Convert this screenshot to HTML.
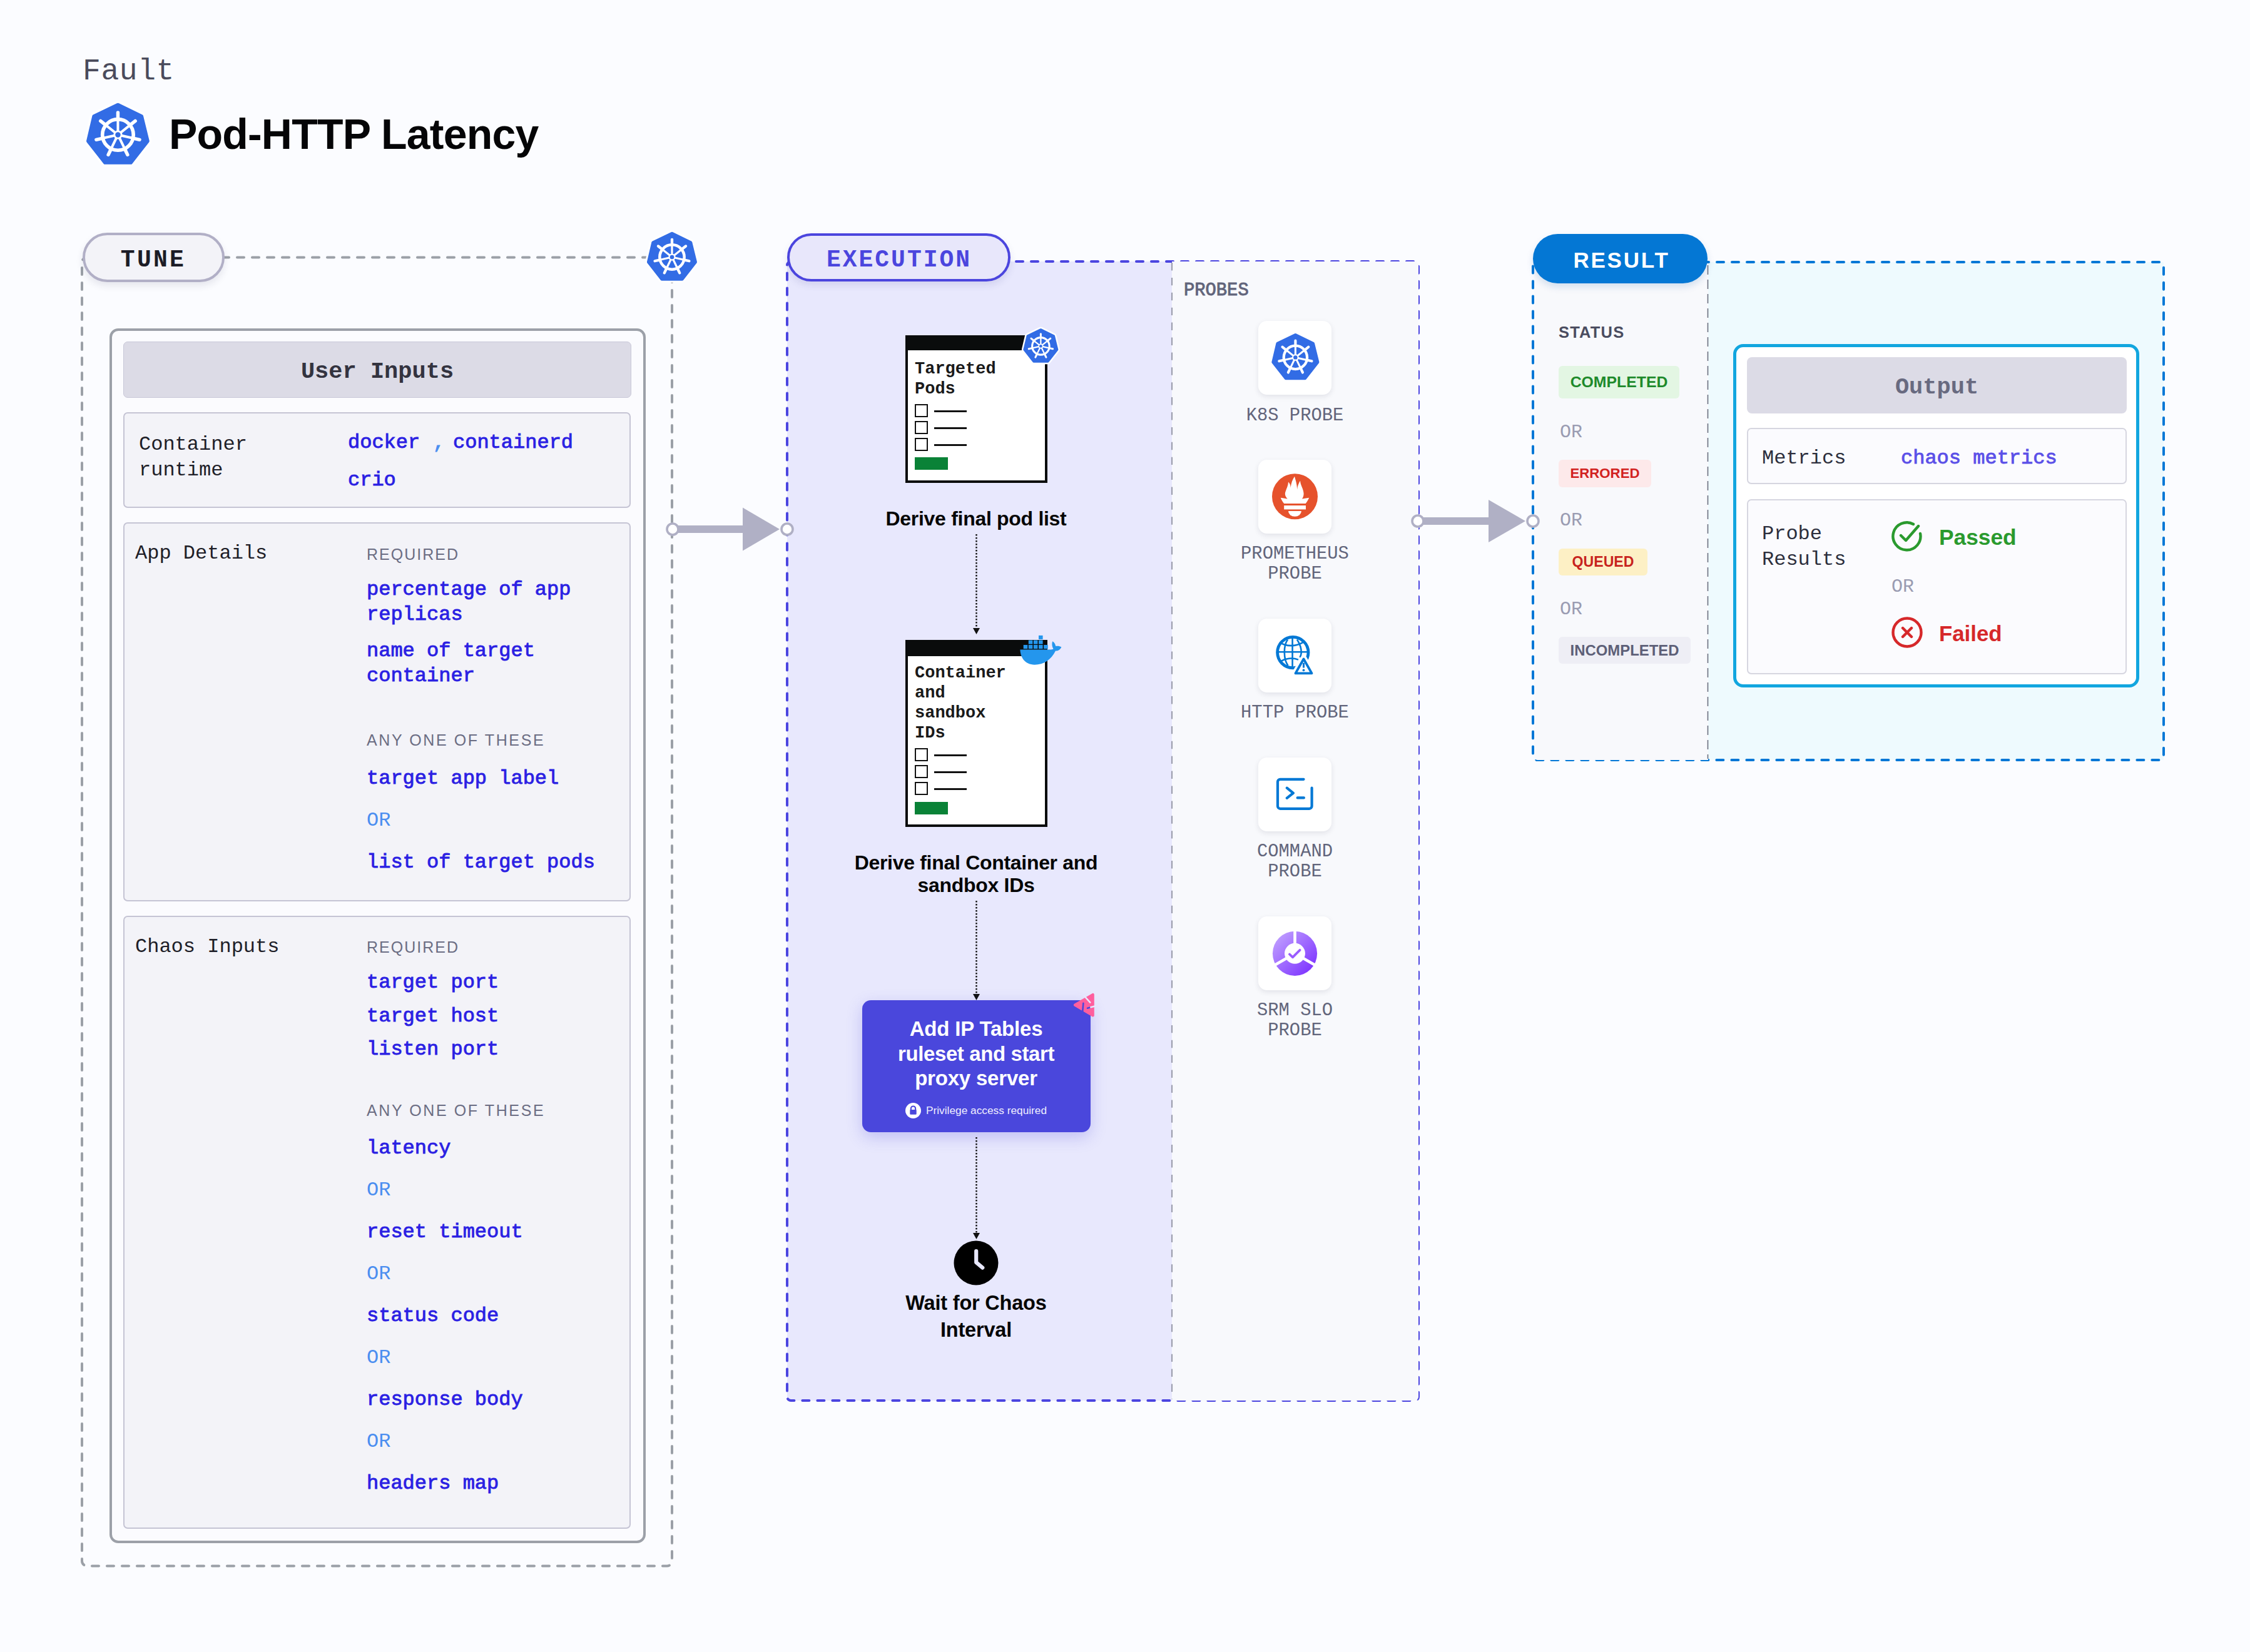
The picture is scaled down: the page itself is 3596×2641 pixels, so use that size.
<!DOCTYPE html><html><head><meta charset="utf-8"><style>
html,body{margin:0;padding:0;width:3596px;height:2641px;overflow:hidden;background:#fbfcff;}
.t{position:absolute;white-space:pre;}
svg{position:absolute;overflow:visible;}
</style></head><body>
<div class="t" style="left:132px;top:90.2px;font:400 48px/48px 'Liberation Mono', monospace;color:#4a4b5c;letter-spacing:0.6px;">Fault</div>
<svg style="left:122.545px;top:149.54500000000002px" width="130.91" height="130.91" viewBox="-65 -65 130 130"><polygon points="0.00,-47.20 37.18,-29.13 46.77,9.94 20.26,43.89 -20.26,43.89 -46.87,9.94 -37.67,-29.14" fill="#fff" stroke="#fff" stroke-width="13.35" stroke-linejoin="round"/><polygon points="0.00,-47.20 37.18,-29.13 46.77,9.94 20.26,43.89 -20.26,43.89 -46.87,9.94 -37.67,-29.14" fill="#326ce5" stroke="#326ce5" stroke-width="6.4" stroke-linejoin="round"/><circle cx="0" cy="0" r="24.6" fill="none" stroke="#fff" stroke-width="5.6"/><g stroke="#fff" stroke-width="4.0" stroke-linecap="round"><line x1="0" y1="0" x2="0.00" y2="-24.00"/><line x1="0" y1="0" x2="18.76" y2="-14.96"/><line x1="0" y1="0" x2="23.40" y2="5.34"/><line x1="0" y1="0" x2="10.41" y2="21.62"/><line x1="0" y1="0" x2="-10.41" y2="21.62"/><line x1="0" y1="0" x2="-23.40" y2="5.34"/><line x1="0" y1="0" x2="-18.76" y2="-14.96"/></g><g stroke="#fff" stroke-width="5.4" stroke-linecap="round"><line x1="0.00" y1="-24.00" x2="0.00" y2="-35.20"/><line x1="18.76" y1="-14.96" x2="27.52" y2="-21.95"/><line x1="23.40" y1="5.34" x2="34.32" y2="7.83"/><line x1="10.41" y1="21.62" x2="15.27" y2="31.71"/><line x1="-10.41" y1="21.62" x2="-15.27" y2="31.71"/><line x1="-23.40" y1="5.34" x2="-34.32" y2="7.83"/><line x1="-18.76" y1="-14.96" x2="-27.52" y2="-21.95"/></g><circle cx="0" cy="0" r="7" fill="#fff"/><circle cx="0" cy="0" r="4.2" fill="#326ce5"/></svg>
<div class="t" style="left:270px;top:180.1px;font:700 68px/68px 'Liberation Sans', sans-serif;color:#050507;letter-spacing:-0.8px;">Pod-HTTP Latency</div>
<svg style="left:0;top:0" width="3596" height="2641"><rect x="131" y="411.5" width="943" height="2092" rx="8" fill="none" stroke="#9ba0a7" stroke-width="4" stroke-dasharray="11 13" stroke-linecap="round"/></svg>
<div style="position:absolute;left:131.5px;top:372px;width:227px;height:79px;box-sizing:border-box;border:4px solid #b1afc6;background:#f3f3f8;border-radius:40px;box-shadow:0 6px 12px rgba(40,40,80,0.10);"></div>
<div class="t" style="left:-755px;width:2000px;text-align:center;top:396.5px;font:700 38px/38px 'Liberation Mono', monospace;color:#1c1c26;letter-spacing:3.3px;">TUNE</div>
<svg style="left:1022.0px;top:359.0px" width="104.0" height="104.0" viewBox="-65 -65 130 130"><polygon points="0.00,-47.20 37.18,-29.13 46.77,9.94 20.26,43.89 -20.26,43.89 -46.87,9.94 -37.67,-29.14" fill="#fff" stroke="#fff" stroke-width="13.90" stroke-linejoin="round"/><polygon points="0.00,-47.20 37.18,-29.13 46.77,9.94 20.26,43.89 -20.26,43.89 -46.87,9.94 -37.67,-29.14" fill="#326ce5" stroke="#326ce5" stroke-width="6.4" stroke-linejoin="round"/><circle cx="0" cy="0" r="24.6" fill="none" stroke="#fff" stroke-width="5.6"/><g stroke="#fff" stroke-width="4.0" stroke-linecap="round"><line x1="0" y1="0" x2="0.00" y2="-24.00"/><line x1="0" y1="0" x2="18.76" y2="-14.96"/><line x1="0" y1="0" x2="23.40" y2="5.34"/><line x1="0" y1="0" x2="10.41" y2="21.62"/><line x1="0" y1="0" x2="-10.41" y2="21.62"/><line x1="0" y1="0" x2="-23.40" y2="5.34"/><line x1="0" y1="0" x2="-18.76" y2="-14.96"/></g><g stroke="#fff" stroke-width="5.4" stroke-linecap="round"><line x1="0.00" y1="-24.00" x2="0.00" y2="-35.20"/><line x1="18.76" y1="-14.96" x2="27.52" y2="-21.95"/><line x1="23.40" y1="5.34" x2="34.32" y2="7.83"/><line x1="10.41" y1="21.62" x2="15.27" y2="31.71"/><line x1="-10.41" y1="21.62" x2="-15.27" y2="31.71"/><line x1="-23.40" y1="5.34" x2="-34.32" y2="7.83"/><line x1="-18.76" y1="-14.96" x2="-27.52" y2="-21.95"/></g><circle cx="0" cy="0" r="7" fill="#fff"/><circle cx="0" cy="0" r="4.2" fill="#326ce5"/></svg>
<div style="position:absolute;left:175px;top:524.5px;width:857px;height:1942.5px;box-sizing:border-box;border:4.5px solid #9ca0a8;border-radius:14px;background:#fbfbfe;"></div>
<div style="position:absolute;left:197px;top:546px;width:812px;height:90px;box-sizing:border-box;border:1.5px solid #c9c8d8;border-radius:7px;background:#dcdbe6;"></div>
<div class="t" style="left:-397px;width:2000px;text-align:center;top:575.6px;font:700 37px/37px 'Liberation Mono', monospace;color:#33333f;letter-spacing:0px;">User Inputs</div>
<div style="position:absolute;left:197px;top:659px;width:811px;height:153px;box-sizing:border-box;border:2px solid #c5c4d4;border-radius:7px;background:#f3f3f8;"></div>
<div class="t" style="left:222px;top:694.5px;font:400 32px/32px 'Liberation Mono', monospace;color:#1e1e28;letter-spacing:0px;">Container</div>
<div class="t" style="left:222px;top:735.5px;font:400 32px/32px 'Liberation Mono', monospace;color:#1e1e28;letter-spacing:0px;">runtime</div>
<div class="t" style="left:556px;top:691.5px;font:400 32px/32px 'Liberation Mono', monospace;color:#2b1fe3;letter-spacing:0px;-webkit-text-stroke:0.9px #2b1fe3;">docker</div>
<div class="t" style="left:692px;top:691.5px;font:400 32px/32px 'Liberation Mono', monospace;color:#4b8ef0;letter-spacing:0px;-webkit-text-stroke:0.9px #4b8ef0;">,</div>
<div class="t" style="left:724px;top:691.5px;font:400 32px/32px 'Liberation Mono', monospace;color:#2b1fe3;letter-spacing:0px;-webkit-text-stroke:0.9px #2b1fe3;">containerd</div>
<div class="t" style="left:556px;top:751.5px;font:400 32px/32px 'Liberation Mono', monospace;color:#2b1fe3;letter-spacing:0px;-webkit-text-stroke:0.9px #2b1fe3;">crio</div>
<div style="position:absolute;left:197px;top:835px;width:811px;height:606px;box-sizing:border-box;border:2px solid #c5c4d4;border-radius:7px;background:#f3f3f8;"></div>
<div class="t" style="left:216px;top:868.5px;font:400 32px/32px 'Liberation Mono', monospace;color:#1e1e28;letter-spacing:0px;">App Details</div>
<div class="t" style="left:586px;top:873.8px;font:400 25px/25px 'Liberation Sans', sans-serif;color:#6b6d83;letter-spacing:2.0px;">REQUIRED</div>
<div class="t" style="left:586px;top:926.5px;font:400 32px/32px 'Liberation Mono', monospace;color:#2b1fe3;letter-spacing:0px;-webkit-text-stroke:0.9px #2b1fe3;">percentage of app</div>
<div class="t" style="left:586px;top:966.5px;font:400 32px/32px 'Liberation Mono', monospace;color:#2b1fe3;letter-spacing:0px;-webkit-text-stroke:0.9px #2b1fe3;">replicas</div>
<div class="t" style="left:586px;top:1024.5px;font:400 32px/32px 'Liberation Mono', monospace;color:#2b1fe3;letter-spacing:0px;-webkit-text-stroke:0.9px #2b1fe3;">name of target</div>
<div class="t" style="left:586px;top:1064.5px;font:400 32px/32px 'Liberation Mono', monospace;color:#2b1fe3;letter-spacing:0px;-webkit-text-stroke:0.9px #2b1fe3;">container</div>
<div class="t" style="left:586px;top:1170.8px;font:400 25px/25px 'Liberation Sans', sans-serif;color:#6b6d83;letter-spacing:2.6px;">ANY ONE OF THESE</div>
<div class="t" style="left:586px;top:1228.5px;font:400 32px/32px 'Liberation Mono', monospace;color:#2b1fe3;letter-spacing:0px;-webkit-text-stroke:0.9px #2b1fe3;">target app label</div>
<div class="t" style="left:586px;top:1295.5px;font:400 32px/32px 'Liberation Mono', monospace;color:#4b8ef0;letter-spacing:0px;">OR</div>
<div class="t" style="left:586px;top:1362.5px;font:400 32px/32px 'Liberation Mono', monospace;color:#2b1fe3;letter-spacing:0px;-webkit-text-stroke:0.9px #2b1fe3;">list of target pods</div>
<div style="position:absolute;left:197px;top:1464px;width:811px;height:980px;box-sizing:border-box;border:2px solid #c5c4d4;border-radius:7px;background:#f3f3f8;"></div>
<div class="t" style="left:216px;top:1497.5px;font:400 32px/32px 'Liberation Mono', monospace;color:#1e1e28;letter-spacing:0px;">Chaos Inputs</div>
<div class="t" style="left:586px;top:1501.8px;font:400 25px/25px 'Liberation Sans', sans-serif;color:#6b6d83;letter-spacing:2.0px;">REQUIRED</div>
<div class="t" style="left:586px;top:1554.5px;font:400 32px/32px 'Liberation Mono', monospace;color:#2b1fe3;letter-spacing:0px;-webkit-text-stroke:0.9px #2b1fe3;">target port</div>
<div class="t" style="left:586px;top:1608.5px;font:400 32px/32px 'Liberation Mono', monospace;color:#2b1fe3;letter-spacing:0px;-webkit-text-stroke:0.9px #2b1fe3;">target host</div>
<div class="t" style="left:586px;top:1661.5px;font:400 32px/32px 'Liberation Mono', monospace;color:#2b1fe3;letter-spacing:0px;-webkit-text-stroke:0.9px #2b1fe3;">listen port</div>
<div class="t" style="left:586px;top:1762.8px;font:400 25px/25px 'Liberation Sans', sans-serif;color:#6b6d83;letter-spacing:2.6px;">ANY ONE OF THESE</div>
<div class="t" style="left:586px;top:1819.5px;font:400 32px/32px 'Liberation Mono', monospace;color:#2b1fe3;letter-spacing:0px;-webkit-text-stroke:0.9px #2b1fe3;">latency</div>
<div class="t" style="left:586px;top:1886.5px;font:400 32px/32px 'Liberation Mono', monospace;color:#4b8ef0;letter-spacing:0px;">OR</div>
<div class="t" style="left:586px;top:1953.5px;font:400 32px/32px 'Liberation Mono', monospace;color:#2b1fe3;letter-spacing:0px;-webkit-text-stroke:0.9px #2b1fe3;">reset timeout</div>
<div class="t" style="left:586px;top:2020.5px;font:400 32px/32px 'Liberation Mono', monospace;color:#4b8ef0;letter-spacing:0px;">OR</div>
<div class="t" style="left:586px;top:2087.5px;font:400 32px/32px 'Liberation Mono', monospace;color:#2b1fe3;letter-spacing:0px;-webkit-text-stroke:0.9px #2b1fe3;">status code</div>
<div class="t" style="left:586px;top:2154.5px;font:400 32px/32px 'Liberation Mono', monospace;color:#4b8ef0;letter-spacing:0px;">OR</div>
<div class="t" style="left:586px;top:2221.5px;font:400 32px/32px 'Liberation Mono', monospace;color:#2b1fe3;letter-spacing:0px;-webkit-text-stroke:0.9px #2b1fe3;">response body</div>
<div class="t" style="left:586px;top:2288.5px;font:400 32px/32px 'Liberation Mono', monospace;color:#4b8ef0;letter-spacing:0px;">OR</div>
<div class="t" style="left:586px;top:2355.5px;font:400 32px/32px 'Liberation Mono', monospace;color:#2b1fe3;letter-spacing:0px;-webkit-text-stroke:0.9px #2b1fe3;">headers map</div>
<div style="position:absolute;left:1258px;top:418px;width:615px;height:1821px;box-sizing:border-box;background:#e8e8fd;border-radius:6px 0 0 6px;"></div>
<svg style="left:0;top:0" width="3596" height="2641"><rect x="1258" y="418" width="1009" height="1821" rx="6" fill="none" stroke="#4b45e0" stroke-width="4" stroke-dasharray="11 13" stroke-linecap="round"/></svg>
<div style="position:absolute;left:1873px;top:418px;width:394px;height:1821px;box-sizing:border-box;background:#f8f9fc;border-radius:0 6px 6px 0;"></div>
<svg style="left:0;top:0" width="3596" height="2641"><line x1="1873" y1="420" x2="1873" y2="2237" stroke="#9d9fae" stroke-width="2.2" stroke-dasharray="12.4 11.5"/></svg>
<div style="position:absolute;left:1258px;top:373px;width:357px;height:77px;box-sizing:border-box;border:4px solid #4b45de;background:#e8e7fb;border-radius:40px;box-shadow:0 6px 12px rgba(60,60,140,0.12);"></div>
<div class="t" style="left:437px;width:2000px;text-align:center;top:396.5px;font:700 38px/38px 'Liberation Mono', monospace;color:#4b45de;letter-spacing:3.0px;">EXECUTION</div>
<svg style="left:0;top:0" width="3596" height="2641"><rect x="1075" y="840" width="114" height="12" fill="#b0b0c5"/><polygon points="1187,811.5 1246,846 1187,880.5" fill="#b0b0c5"/><circle cx="1075" cy="846" r="9" fill="#fff" stroke="#b0b0c5" stroke-width="3.6"/><circle cx="1258" cy="846" r="9" fill="#fff" stroke="#b0b0c5" stroke-width="3.6"/></svg>
<div style="position:absolute;left:1447px;top:536px;width:227px;height:236px;box-sizing:border-box;border:4px solid #0a0c0c;background:#fff;"></div>
<div style="position:absolute;left:1447px;top:536px;width:227px;height:24px;box-sizing:border-box;background:#0a0c0c;"></div>
<div class="t" style="left:1462px;top:576.8px;font:700 27px/27px 'Liberation Mono', monospace;color:#1a1a1a;letter-spacing:0px;">Targeted</div>
<div class="t" style="left:1462px;top:608.8px;font:700 27px/27px 'Liberation Mono', monospace;color:#1a1a1a;letter-spacing:0px;">Pods</div>
<div style="position:absolute;left:1462px;top:646px;width:21px;height:21px;box-sizing:border-box;border:2.5px solid #111;background:#fff;"></div>
<div style="position:absolute;left:1493px;top:656px;width:52px;height:2.5px;box-sizing:border-box;background:#111;"></div>
<div style="position:absolute;left:1462px;top:673px;width:21px;height:21px;box-sizing:border-box;border:2.5px solid #111;background:#fff;"></div>
<div style="position:absolute;left:1493px;top:683px;width:52px;height:2.5px;box-sizing:border-box;background:#111;"></div>
<div style="position:absolute;left:1462px;top:700px;width:21px;height:21px;box-sizing:border-box;border:2.5px solid #111;background:#fff;"></div>
<div style="position:absolute;left:1493px;top:710px;width:52px;height:2.5px;box-sizing:border-box;background:#111;"></div>
<div style="position:absolute;left:1462px;top:731px;width:53px;height:20px;box-sizing:border-box;background:#0a8237;"></div>
<svg style="left:1626.6px;top:516.6px" width="72.8" height="72.8" viewBox="-65 -65 130 130"><polygon points="0.00,-47.20 37.18,-29.13 46.77,9.94 20.26,43.89 -20.26,43.89 -46.87,9.94 -37.67,-29.14" fill="#fff" stroke="#fff" stroke-width="15.33" stroke-linejoin="round"/><polygon points="0.00,-47.20 37.18,-29.13 46.77,9.94 20.26,43.89 -20.26,43.89 -46.87,9.94 -37.67,-29.14" fill="#326ce5" stroke="#326ce5" stroke-width="6.4" stroke-linejoin="round"/><circle cx="0" cy="0" r="24.6" fill="none" stroke="#fff" stroke-width="5.6"/><g stroke="#fff" stroke-width="4.0" stroke-linecap="round"><line x1="0" y1="0" x2="0.00" y2="-24.00"/><line x1="0" y1="0" x2="18.76" y2="-14.96"/><line x1="0" y1="0" x2="23.40" y2="5.34"/><line x1="0" y1="0" x2="10.41" y2="21.62"/><line x1="0" y1="0" x2="-10.41" y2="21.62"/><line x1="0" y1="0" x2="-23.40" y2="5.34"/><line x1="0" y1="0" x2="-18.76" y2="-14.96"/></g><g stroke="#fff" stroke-width="5.4" stroke-linecap="round"><line x1="0.00" y1="-24.00" x2="0.00" y2="-35.20"/><line x1="18.76" y1="-14.96" x2="27.52" y2="-21.95"/><line x1="23.40" y1="5.34" x2="34.32" y2="7.83"/><line x1="10.41" y1="21.62" x2="15.27" y2="31.71"/><line x1="-10.41" y1="21.62" x2="-15.27" y2="31.71"/><line x1="-23.40" y1="5.34" x2="-34.32" y2="7.83"/><line x1="-18.76" y1="-14.96" x2="-27.52" y2="-21.95"/></g><circle cx="0" cy="0" r="7" fill="#fff"/><circle cx="0" cy="0" r="4.2" fill="#326ce5"/></svg>
<div class="t" style="left:560px;width:2000px;text-align:center;top:812.9px;font:700 32px/32px 'Liberation Sans', sans-serif;color:#050505;letter-spacing:-0.3px;">Derive final pod list</div>
<svg style="left:0;top:0" width="3596" height="2641"><line x1="1560.5" y1="854" x2="1560.5" y2="1004" stroke="#111" stroke-width="2.4" stroke-dasharray="2.6 2.4"/><polygon points="1555.0,1004 1566.0,1004 1560.5,1014" fill="#111"/></svg>
<div style="position:absolute;left:1447px;top:1023px;width:227px;height:299px;box-sizing:border-box;border:4px solid #0a0c0c;background:#fff;"></div>
<div style="position:absolute;left:1447px;top:1023px;width:227px;height:26px;box-sizing:border-box;background:#0a0c0c;"></div>
<div class="t" style="left:1462px;top:1063.3px;font:700 27px/27px 'Liberation Mono', monospace;color:#1a1a1a;letter-spacing:0px;">Container</div>
<div class="t" style="left:1462px;top:1095.3px;font:700 27px/27px 'Liberation Mono', monospace;color:#1a1a1a;letter-spacing:0px;">and</div>
<div class="t" style="left:1462px;top:1127.3px;font:700 27px/27px 'Liberation Mono', monospace;color:#1a1a1a;letter-spacing:0px;">sandbox</div>
<div class="t" style="left:1462px;top:1159.3px;font:700 27px/27px 'Liberation Mono', monospace;color:#1a1a1a;letter-spacing:0px;">IDs</div>
<div style="position:absolute;left:1462px;top:1196px;width:21px;height:21px;box-sizing:border-box;border:2.5px solid #111;background:#fff;"></div>
<div style="position:absolute;left:1493px;top:1206px;width:52px;height:2.5px;box-sizing:border-box;background:#111;"></div>
<div style="position:absolute;left:1462px;top:1223px;width:21px;height:21px;box-sizing:border-box;border:2.5px solid #111;background:#fff;"></div>
<div style="position:absolute;left:1493px;top:1233px;width:52px;height:2.5px;box-sizing:border-box;background:#111;"></div>
<div style="position:absolute;left:1462px;top:1250px;width:21px;height:21px;box-sizing:border-box;border:2.5px solid #111;background:#fff;"></div>
<div style="position:absolute;left:1493px;top:1260px;width:52px;height:2.5px;box-sizing:border-box;background:#111;"></div>
<div style="position:absolute;left:1462px;top:1282px;width:53px;height:20px;box-sizing:border-box;background:#0a8237;"></div>
<svg style="left:1620px;top:1000px" width="90" height="70" viewBox="0 0 90 70">
<g fill="#2496ed">
<rect x="40" y="15.9" width="6.6" height="6.2"/>
<rect x="23.8" y="23.5" width="6.6" height="6.2"/><rect x="31.9" y="23.5" width="6.6" height="6.2"/><rect x="40" y="23.5" width="6.6" height="6.2"/>
<rect x="15.7" y="31" width="6.6" height="6.2"/><rect x="23.8" y="31" width="6.6" height="6.2"/><rect x="31.9" y="31" width="6.6" height="6.2"/><rect x="40" y="31" width="6.6" height="6.2"/><rect x="48.2" y="31" width="6.6" height="6.2"/>
<path d="M10.4 38.6 H58 C60.5 38.6 62 38.2 63.5 37.6 C61.2 33.5 60.8 28.5 62.2 25.2 C65.2 27 66.8 30 67.2 33 C70.5 32.4 74.2 33 76.3 34.5 C74.5 38.6 71 40.8 67 40.6 C60 55 48 62.7 33.5 62.7 C18 62.7 10.8 51 10.4 38.6 Z"/>
</g></svg>
<div class="t" style="left:560px;width:2000px;text-align:center;top:1362.9px;font:700 32px/32px 'Liberation Sans', sans-serif;color:#050505;letter-spacing:-0.3px;">Derive final Container and</div>
<div class="t" style="left:560px;width:2000px;text-align:center;top:1398.9px;font:700 32px/32px 'Liberation Sans', sans-serif;color:#050505;letter-spacing:-0.3px;">sandbox IDs</div>
<svg style="left:0;top:0" width="3596" height="2641"><line x1="1560.5" y1="1440" x2="1560.5" y2="1589" stroke="#111" stroke-width="2.4" stroke-dasharray="2.6 2.4"/><polygon points="1555.0,1589 1566.0,1589 1560.5,1599" fill="#111"/></svg>
<div style="position:absolute;left:1378px;top:1599px;width:365px;height:211px;box-sizing:border-box;background:#4a47dc;border-radius:14px;box-shadow:0 8px 24px rgba(74,71,220,0.25);"></div>
<div class="t" style="left:560px;width:2000px;text-align:center;top:1628.1px;font:700 33px/33px 'Liberation Sans', sans-serif;color:#ffffff;letter-spacing:-0.2px;">Add IP Tables</div>
<div class="t" style="left:560px;width:2000px;text-align:center;top:1668.1px;font:700 33px/33px 'Liberation Sans', sans-serif;color:#ffffff;letter-spacing:-0.4px;">ruleset and start</div>
<div class="t" style="left:560px;width:2000px;text-align:center;top:1707.1px;font:700 33px/33px 'Liberation Sans', sans-serif;color:#ffffff;letter-spacing:-0.2px;">proxy server</div>
<svg style="left:1447px;top:1763px" width="25" height="25" viewBox="0 0 24 24"><circle cx="12" cy="12" r="12" fill="#fff"/>
<path d="M8.5 11 V8.8 a3.5 3.5 0 0 1 7 0 V11" fill="none" stroke="#4a47dc" stroke-width="2"/><rect x="7" y="10.5" width="10" height="7.5" rx="1" fill="#4a47dc"/></svg>
<div class="t" style="left:1480px;top:1767.4px;font:400 17.3px/17.3px 'Liberation Sans', sans-serif;color:#eeeefe;letter-spacing:0px;">Privilege access required</div>
<svg style="left:1712px;top:1584px" width="44" height="48" viewBox="0 0 44 48">
<polygon points="6,22.6 34.7,6 34.7,39.5" fill="#ff5f9e" stroke="#ff5f9e" stroke-width="4.2" stroke-linejoin="round"/>
<line x1="20.7" y1="8" x2="30.3" y2="18.6" stroke="#e8e8fc" stroke-width="2.6" stroke-linecap="round"/>
<line x1="19.4" y1="19.7" x2="17.6" y2="40" stroke="#4a47dc" stroke-width="2.6" stroke-linecap="round"/>
<line x1="26" y1="27.7" x2="30.3" y2="26.6" stroke="#4a47dc" stroke-width="2.6" stroke-linecap="round"/>
<line x1="30.3" y1="26.6" x2="40" y2="24.1" stroke="#e8e8fc" stroke-width="2.6"/>
</svg>
<svg style="left:0;top:0" width="3596" height="2641"><line x1="1560.5" y1="1818" x2="1560.5" y2="1971" stroke="#111" stroke-width="2.4" stroke-dasharray="2.6 2.4"/><polygon points="1555.0,1971 1566.0,1971 1560.5,1981" fill="#111"/></svg>
<svg style="left:1524px;top:1983px" width="72" height="72" viewBox="0 0 72 72"><circle cx="36" cy="36" r="35.5" fill="#000"/>
<path d="M36.2 17 V35.2 L46.3 43.6" fill="none" stroke="#e8e8fd" stroke-width="6.2" stroke-linecap="round" stroke-linejoin="round"/></svg>
<div class="t" style="left:560px;width:2000px;text-align:center;top:2066.5px;font:700 32.5px/32.5px 'Liberation Sans', sans-serif;color:#050505;letter-spacing:-0.2px;">Wait for Chaos</div>
<div class="t" style="left:560px;width:2000px;text-align:center;top:2109.5px;font:700 32.5px/32.5px 'Liberation Sans', sans-serif;color:#050505;letter-spacing:-0.2px;">Interval</div>
<div class="t" style="left:1892px;top:450.9px;font:400 28.8px/28.8px 'Liberation Mono', monospace;color:#62657b;letter-spacing:0px;-webkit-text-stroke:0.9px #62657b;">PROBES</div>
<div style="position:absolute;left:2011px;top:513px;width:117px;height:118px;box-sizing:border-box;background:#fff;border-radius:14px;box-shadow:0 3px 8px rgba(30,30,60,0.10);"></div>
<div style="position:absolute;left:2011px;top:735px;width:117px;height:118px;box-sizing:border-box;background:#fff;border-radius:14px;box-shadow:0 3px 8px rgba(30,30,60,0.10);"></div>
<div style="position:absolute;left:2011px;top:989px;width:117px;height:118px;box-sizing:border-box;background:#fff;border-radius:14px;box-shadow:0 3px 8px rgba(30,30,60,0.10);"></div>
<div style="position:absolute;left:2011px;top:1211px;width:117px;height:118px;box-sizing:border-box;background:#fff;border-radius:14px;box-shadow:0 3px 8px rgba(30,30,60,0.10);"></div>
<div style="position:absolute;left:2011px;top:1465px;width:117px;height:118px;box-sizing:border-box;background:#fff;border-radius:14px;box-shadow:0 3px 8px rgba(30,30,60,0.10);"></div>
<div class="t" style="left:1069.5px;width:2000px;text-align:center;top:650.9px;font:400 28.8px/28.8px 'Liberation Mono', monospace;color:#62657b;letter-spacing:0px;">K8S PROBE</div>
<div class="t" style="left:1069.5px;width:2000px;text-align:center;top:871.9px;font:400 28.8px/28.8px 'Liberation Mono', monospace;color:#62657b;letter-spacing:0px;">PROMETHEUS</div>
<div class="t" style="left:1069.5px;width:2000px;text-align:center;top:903.9px;font:400 28.8px/28.8px 'Liberation Mono', monospace;color:#62657b;letter-spacing:0px;">PROBE</div>
<div class="t" style="left:1069.5px;width:2000px;text-align:center;top:1126.4px;font:400 28.8px/28.8px 'Liberation Mono', monospace;color:#62657b;letter-spacing:0px;">HTTP PROBE</div>
<div class="t" style="left:1069.5px;width:2000px;text-align:center;top:1347.9px;font:400 28.8px/28.8px 'Liberation Mono', monospace;color:#62657b;letter-spacing:0px;">COMMAND</div>
<div class="t" style="left:1069.5px;width:2000px;text-align:center;top:1379.9px;font:400 28.8px/28.8px 'Liberation Mono', monospace;color:#62657b;letter-spacing:0px;">PROBE</div>
<div class="t" style="left:1069.5px;width:2000px;text-align:center;top:1602.4px;font:400 28.8px/28.8px 'Liberation Mono', monospace;color:#62657b;letter-spacing:0px;">SRM SLO</div>
<div class="t" style="left:1069.5px;width:2000px;text-align:center;top:1633.9px;font:400 28.8px/28.8px 'Liberation Mono', monospace;color:#62657b;letter-spacing:0px;">PROBE</div>
<svg style="left:2020.6px;top:521.6px" width="98.8" height="98.8" viewBox="-65 -65 130 130"><polygon points="0.00,-47.20 37.18,-29.13 46.77,9.94 20.26,43.89 -20.26,43.89 -46.87,9.94 -37.67,-29.14" fill="#326ce5" stroke="#326ce5" stroke-width="6.4" stroke-linejoin="round"/><circle cx="0" cy="0" r="24.6" fill="none" stroke="#fff" stroke-width="5.6"/><g stroke="#fff" stroke-width="4.0" stroke-linecap="round"><line x1="0" y1="0" x2="0.00" y2="-24.00"/><line x1="0" y1="0" x2="18.76" y2="-14.96"/><line x1="0" y1="0" x2="23.40" y2="5.34"/><line x1="0" y1="0" x2="10.41" y2="21.62"/><line x1="0" y1="0" x2="-10.41" y2="21.62"/><line x1="0" y1="0" x2="-23.40" y2="5.34"/><line x1="0" y1="0" x2="-18.76" y2="-14.96"/></g><g stroke="#fff" stroke-width="5.4" stroke-linecap="round"><line x1="0.00" y1="-24.00" x2="0.00" y2="-35.20"/><line x1="18.76" y1="-14.96" x2="27.52" y2="-21.95"/><line x1="23.40" y1="5.34" x2="34.32" y2="7.83"/><line x1="10.41" y1="21.62" x2="15.27" y2="31.71"/><line x1="-10.41" y1="21.62" x2="-15.27" y2="31.71"/><line x1="-23.40" y1="5.34" x2="-34.32" y2="7.83"/><line x1="-18.76" y1="-14.96" x2="-27.52" y2="-21.95"/></g><circle cx="0" cy="0" r="7" fill="#fff"/><circle cx="0" cy="0" r="4.2" fill="#326ce5"/></svg>
<svg style="left:2032px;top:757px" width="76" height="76" viewBox="0 0 76 76">
<circle cx="37.5" cy="36.8" r="36.5" fill="#e6522c"/>
<path fill="#fff" d="M25.7 40.6 C22 37 21 33 22.5 29 C24 24 27 19 27 13.4 C29.5 15.5 30.8 19 30.6 22.9 C31.5 15 34 9 37 4.8 C38.5 10 41 17 41.1 25.6 C41.5 20 44 15 46.1 11.6 C46 18 51 24 51.5 31.1 C52 35 50.5 38.5 48.8 40.6 L60.2 38.8 C58.5 42.5 56.8 45.5 54.7 47.9 H20.2 C18 45.5 16.3 42.5 14.8 38.8 Z"/>
<rect x="20.2" y="51.1" width="34.8" height="6.3" fill="#fff"/>
<path d="M27 60.1 H47.9 A10.45 8.7 0 0 1 27 60.1 Z" fill="#fff"/>
</svg>
<svg style="left:2032px;top:1013px" width="76" height="76" viewBox="0 0 76 76">
<g fill="none" stroke="#0278d5">
<circle cx="34.3" cy="30.1" r="24.7" stroke-width="4.8"/>
<path d="M33.6 7 V53" stroke-width="2.6"/>
<path d="M9.5 29.3 H59" stroke-width="2.6"/>
<path d="M26 9.5 C19 19 19 41 26.5 51" stroke-width="2.6"/>
<path d="M41 9.5 C46 17 48 25 47.7 31 C47.5 34 46.5 36 45.5 38" stroke-width="2.6"/>
<path d="M13 13.6 C23 21 39 21 51 13.6" stroke-width="2.6"/>
<path d="M14 45 C22 39 34 38 43 41.6" stroke-width="2.6"/>
</g>
<path d="M51.5 40.5 L64.5 63.4 H38.5 Z" fill="#fff" stroke="#fff" stroke-width="11" stroke-linejoin="round"/>
<path d="M51.5 40.5 L64.5 63.4 H38.5 Z" fill="#fff" stroke="#0278d5" stroke-width="3.8" stroke-linejoin="round"/>
<line x1="51.5" y1="46.7" x2="51.5" y2="54.5" stroke="#0278d5" stroke-width="3"/>
<circle cx="51.5" cy="58.3" r="1.9" fill="#0278d5"/>
</svg>
<svg style="left:2032px;top:1233px" width="76" height="76" viewBox="0 0 76 76">
<path d="M51.5 12.8 H14 a4 4 0 0 0 -4 4 V55.8 a4 4 0 0 0 4 4 H60.6 a4 4 0 0 0 4 -4 V26.7" fill="none" stroke="#0278d5" stroke-width="4.2" stroke-linecap="round"/>
<path d="M24.8 26.7 L34.9 34.8 L24.8 42.8" fill="none" stroke="#0278d5" stroke-width="4.2" stroke-linecap="round" stroke-linejoin="round"/>
<path d="M41.7 42.4 H51.9" fill="none" stroke="#0278d5" stroke-width="4.2" stroke-linecap="round"/>
</svg>
<svg style="left:2032px;top:1488px" width="76" height="76" viewBox="0 0 76 76">
<defs><linearGradient id="pg" x1="0" y1="0" x2="1" y2="1"><stop offset="0" stop-color="#c7abff"/><stop offset="1" stop-color="#7526ff"/></linearGradient>
<mask id="pm"><rect width="76" height="76" fill="#fff"/><circle cx="37.5" cy="36.3" r="16.5" fill="#000"/>
<line x1="37.5" y1="-2" x2="37.5" y2="36.3" stroke="#000" stroke-width="4.6"/>
<line x1="37.5" y1="36.3" x2="2" y2="56.8" stroke="#000" stroke-width="4.6"/>
<line x1="37.5" y1="36.3" x2="73" y2="56.8" stroke="#000" stroke-width="4.6"/></mask></defs>
<circle cx="37.5" cy="36.3" r="35.6" fill="url(#pg)" mask="url(#pm)"/>
<path d="M29 37.5 L34 42.3 L45.5 30.8" fill="none" stroke="#9a5cff" stroke-width="3.8" stroke-linecap="round" stroke-linejoin="round"/>
</svg>
<div style="position:absolute;left:2729px;top:419px;width:729px;height:796px;box-sizing:border-box;background:#eefafe;"></div>
<svg style="left:0;top:0" width="3596" height="2641"><rect x="2450" y="419" width="1008" height="796" rx="6" fill="none" stroke="#0277d6" stroke-width="4" stroke-dasharray="11 13" stroke-linecap="round"/></svg>
<div style="position:absolute;left:2452px;top:421px;width:277.5px;height:794px;box-sizing:border-box;background:#f8f9fc;border-radius:0 0 0 5px;"></div>
<svg style="left:0;top:0" width="3596" height="2641"><line x1="2729.5" y1="424" x2="2729.5" y2="1213" stroke="#6b6e7e" stroke-width="1.6" stroke-dasharray="15 8"/></svg>
<svg style="left:0;top:0" width="3596" height="2641"><rect x="2266" y="827" width="115" height="12" fill="#b0b0c5"/><polygon points="2379,799 2438,833 2379,867" fill="#b0b0c5"/><circle cx="2266" cy="833" r="9" fill="#fff" stroke="#b0b0c5" stroke-width="3.6"/><circle cx="2450" cy="833" r="9" fill="#fff" stroke="#b0b0c5" stroke-width="3.6"/></svg>
<div style="position:absolute;left:2450px;top:374px;width:279px;height:79px;box-sizing:border-box;background:#0477d4;border-radius:40px;box-shadow:0 6px 12px rgba(4,80,160,0.15);"></div>
<div class="t" style="left:1591.5px;width:2000px;text-align:center;top:398.4px;font:700 35px/35px 'Liberation Sans', sans-serif;color:#ffffff;letter-spacing:2.8px;">RESULT</div>
<div class="t" style="left:2491px;top:519.0px;font:700 25.5px/25.5px 'Liberation Sans', sans-serif;color:#4b4d60;letter-spacing:1.2px;">STATUS</div>
<div style="position:absolute;left:2491px;top:585px;width:193px;height:52px;box-sizing:border-box;background:#e3f6e3;border-radius:6px;"></div>
<div class="t" style="left:1587.5px;width:2000px;text-align:center;top:598.5px;font:700 24.8px/24.8px 'Liberation Sans', sans-serif;color:#1e8a2b;letter-spacing:0px;">COMPLETED</div>
<div class="t" style="left:2493px;top:676.0px;font:400 30px/30px 'Liberation Mono', monospace;color:#9a9cb2;letter-spacing:0px;">OR</div>
<div style="position:absolute;left:2491px;top:735px;width:148px;height:44px;box-sizing:border-box;background:#fde9ea;border-radius:6px;"></div>
<div class="t" style="left:1565.0px;width:2000px;text-align:center;top:745.8px;font:700 22.2px/22.2px 'Liberation Sans', sans-serif;color:#d2221f;letter-spacing:0px;">ERRORED</div>
<div class="t" style="left:2493px;top:817.0px;font:400 30px/30px 'Liberation Mono', monospace;color:#9a9cb2;letter-spacing:0px;">OR</div>
<div style="position:absolute;left:2491px;top:877px;width:142px;height:43px;box-sizing:border-box;background:#fdf0c5;border-radius:6px;"></div>
<div class="t" style="left:1562.0px;width:2000px;text-align:center;top:886.9px;font:700 23.1px/23.1px 'Liberation Sans', sans-serif;color:#c8241e;letter-spacing:0px;">QUEUED</div>
<div class="t" style="left:2493px;top:959.0px;font:400 30px/30px 'Liberation Mono', monospace;color:#9a9cb2;letter-spacing:0px;">OR</div>
<div style="position:absolute;left:2491px;top:1018px;width:211px;height:43px;box-sizing:border-box;background:#eeeef5;border-radius:6px;"></div>
<div class="t" style="left:1596.5px;width:2000px;text-align:center;top:1027.5px;font:700 23.9px/23.9px 'Liberation Sans', sans-serif;color:#5d5f77;letter-spacing:0px;">INCOMPLETED</div>
<div style="position:absolute;left:2770px;top:549.5px;width:649px;height:549px;box-sizing:border-box;border:5px solid #12a6df;border-radius:16px;background:#ffffff;"></div>
<div style="position:absolute;left:2792px;top:571px;width:607px;height:90px;box-sizing:border-box;background:#dcdbe6;border-radius:8px;"></div>
<div class="t" style="left:2095.5px;width:2000px;text-align:center;top:601.1px;font:700 37px/37px 'Liberation Mono', monospace;color:#686a80;letter-spacing:0px;">Output</div>
<div style="position:absolute;left:2792px;top:683.5px;width:607px;height:90px;box-sizing:border-box;border:2px solid #d6d6e0;border-radius:7px;background:#fbfbfe;"></div>
<div class="t" style="left:2816px;top:717.0px;font:400 32px/32px 'Liberation Mono', monospace;color:#2c2e3c;letter-spacing:0px;">Metrics</div>
<div class="t" style="left:3038px;top:717.0px;font:400 32px/32px 'Liberation Mono', monospace;color:#5b50e8;letter-spacing:0px;-webkit-text-stroke:0.9px #5b50e8;">chaos metrics</div>
<div style="position:absolute;left:2792px;top:798px;width:607px;height:280px;box-sizing:border-box;border:2px solid #d6d6e0;border-radius:7px;background:#fbfbfe;"></div>
<div class="t" style="left:2816px;top:837.5px;font:400 32px/32px 'Liberation Mono', monospace;color:#2c2e3c;letter-spacing:0px;">Probe</div>
<div class="t" style="left:2816px;top:878.5px;font:400 32px/32px 'Liberation Mono', monospace;color:#2c2e3c;letter-spacing:0px;">Results</div>
<svg style="left:3022px;top:831px" width="52" height="52" viewBox="0 0 52 52"><path d="M47 22 A22 22 0 1 1 36 7" fill="none" stroke="#2a9a2e" stroke-width="4.4" stroke-linecap="round"/>
<path d="M16 25 L24 33 L44 10" fill="none" stroke="#2a9a2e" stroke-width="4.4" stroke-linecap="round" stroke-linejoin="round"/></svg>
<div class="t" style="left:3099px;top:840.6px;font:700 35.3px/35.3px 'Liberation Sans', sans-serif;color:#2a9a2e;letter-spacing:0px;">Passed</div>
<div class="t" style="left:3023px;top:923.0px;font:400 30px/30px 'Liberation Mono', monospace;color:#9a9cb2;letter-spacing:0px;">OR</div>
<svg style="left:3022px;top:985px" width="52" height="52" viewBox="0 0 52 52"><circle cx="26" cy="26" r="22.5" fill="none" stroke="#d6282a" stroke-width="4.4"/>
<path d="M19 19 L33 33 M33 19 L19 33" fill="none" stroke="#d6282a" stroke-width="4.4" stroke-linecap="round"/></svg>
<div class="t" style="left:3099px;top:995.5px;font:700 34.8px/34.8px 'Liberation Sans', sans-serif;color:#d6282a;letter-spacing:0px;">Failed</div>
</body></html>
